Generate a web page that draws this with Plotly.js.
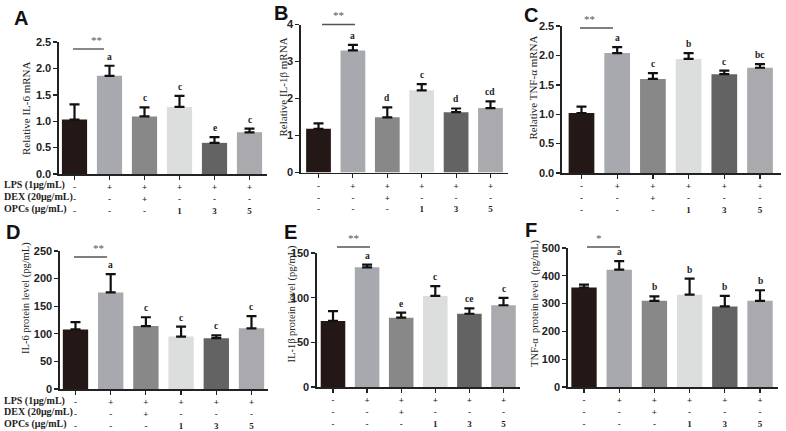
<!DOCTYPE html>
<html><head><meta charset="utf-8">
<script src="https://cdn.plot.ly/plotly-3.0.1.min.js"></script>
<style>html,body{margin:0;padding:0;background:#fff}#chart{width:786px;height:431px}</style>
</head><body><div id="chart"></div>
<script>
// ---- data ----
const groups = ['Control', 'LPS', 'LPS+DEX', 'LPS+OPCs 1', 'LPS+OPCs 3', 'LPS+OPCs 5'];
const lpsRow  = ['-', '+', '+', '+', '+', '+'];
const dexRow  = ['-', '-', '+', '-', '-', '-'];
const opcsRow = ['-', '-', '-', '1', '3', '5'];
const rowLabels = ['LPS (1μg/mL)', 'DEX (20μg/mL)', 'OPCs (μg/mL)'];

const il6mRNA      = [1.03, 1.86, 1.09, 1.27, 0.59, 0.79];
const il6mRNASD    = [0.29, 0.19, 0.17, 0.21, 0.11, 0.07];
const il1bmRNA     = [1.18, 3.30, 1.49, 2.22, 1.63, 1.74];
const il1bmRNASD   = [0.15, 0.15, 0.27, 0.17, 0.10, 0.18];
const tnfmRNA      = [1.02, 2.04, 1.60, 1.94, 1.68, 1.79];
const tnfmRNASD    = [0.11, 0.10, 0.10, 0.10, 0.06, 0.06];
const il6Protein   = [108, 175, 114, 95, 92, 110];
const il6ProteinSD = [13, 33, 16, 18, 5, 22];
const il1bProtein  = [74, 134, 77.6, 102, 82, 91.5];
const il1bProteinSD= [11, 3, 5.7, 11, 6, 8.3];
const tnfProtein   = [358, 422, 310, 332, 290, 310];
const tnfProteinSD = [10, 31, 16, 58, 38, 38];

const lettersA = ['', 'a', 'c', 'c', 'e', 'c'];
const lettersB = ['', 'a', 'd', 'c', 'd', 'cd'];
const lettersC = ['', 'a', 'c', 'b', 'c', 'bc'];
const lettersD = ['', 'a', 'c', 'c', 'c', 'c'];
const lettersE = ['', 'a', 'e', 'c', 'ce', 'c'];
const lettersF = ['', 'a', 'b', 'b', 'b', 'b'];

const barColors = ['#231815', '#a8a9ae', '#878887', '#dcdddd', '#636363', '#a9a9ae'];

// ---- panel geometry (pixels in a 786x431 canvas) ----
const W = 786, H = 431;
const panels = [
  {id:'A', vals:il6mRNA, sd:il6mRNASD, letters:lettersA, title:'Relative IL-6 mRNA', ts:11, tpos:[26,108], yr:[0,2.5], dt:0.5, fmt:'.1f',
   px:[59,267], py:[42,174], xr:[-0.443,5.5], lab:[12,5], sig:'**', sigX:[73,104], sigY:49, rows:true},
  {id:'B', vals:il1bmRNA, sd:il1bmRNASD, letters:lettersB, title:'Relative IL-1β mRNA', ts:11, tpos:[282.5,87], yr:[0,4], dt:1, fmt:'d',
   px:[301,508], py:[24.5,172.5], xr:[-0.509,5.509], lab:[272,0], sig:'**', sigX:[322,355], sigY:24.5, rows:false},
  {id:'C', vals:tnfmRNA, sd:tnfmRNASD, letters:lettersC, title:'Relative TNF-α mRNA', ts:11, tpos:[532.5,88], yr:[0,2.5], dt:0.5, fmt:'.1f',
   px:[562,781], py:[26,173], xr:[-0.546,5.588], lab:[522,2], sig:'**', sigX:[580,613], sigY:28, rows:false},
  {id:'D', vals:il6Protein, sd:il6ProteinSD, letters:lettersD, title:'IL-6 protein level (pg/mL)', ts:10.5, tpos:[26,298], yr:[0,250], dt:50, fmt:'d',
   px:[60,268], py:[251,389], xr:[-0.44,5.469], lab:[4,219], sig:'**', sigX:[74,107], sigY:257, rows:true},
  {id:'E', vals:il1bProtein, sd:il1bProteinSD, letters:lettersE, title:'IL-1β protein level (pg/mL)', ts:10.5, tpos:[291.5,304], yr:[0,150], dt:50, fmt:'d',
   px:[317,520], py:[253,387], xr:[-0.469,5.484], lab:[282,219], sig:'**', sigX:[337,370], sigY:247, rows:false},
  {id:'F', vals:tnfProtein, sd:tnfProteinSD, letters:lettersF, title:'TNF-α  protein level  (pg/mL)', ts:10.5, tpos:[535,303], yr:[0,500], dt:100, fmt:'d',
   px:[568,778], py:[248,387], xr:[-0.455,5.511], lab:[523,217], sig:'*', sigX:[587,620], sigY:247, rows:false}
];

const SERIF = 'Liberation Serif, Times New Roman, serif';
const SANS = 'Liberation Sans, Arial, sans-serif';
const tickText = groups.map((g, i) => lpsRow[i] + '<br>' + dexRow[i] + '<br>' + opcsRow[i]);
const xIdx = groups.map((g, i) => i);

const data = [];
const layout = {
  width: W, height: H, margin: {l:0, r:0, t:0, b:0},
  paper_bgcolor: '#fff', plot_bgcolor: '#fff', showlegend: false,
  annotations: [], shapes: []
};

panels.forEach((p, k) => {
  const n = k === 0 ? '' : String(k + 1);
  const xa = 'x' + n, ya = 'y' + n;
  data.push({
    type: 'bar', x: xIdx, y: p.vals, xaxis: xa, yaxis: ya,
    width: 0.72,
    marker: {color: barColors, line: {width: 0}},
    error_y: {type: 'data', array: p.sd, arrayminus: p.sd.map(() => 0), symmetric: false,
              color: '#111', thickness: 2.2, width: 5},
    hoverinfo: 'skip'
  });
  layout['xaxis' + n] = {
    domain: [p.px[0] / W, p.px[1] / W], range: p.xr, anchor: ya,
    tickmode: 'array', tickvals: xIdx, ticktext: tickText,
    ticks: 'outside', ticklen: 4, tickwidth: 1.2, tickcolor: '#222',
    showline: true, linecolor: '#222', linewidth: 1.6,
    showgrid: false, zeroline: false, fixedrange: true,
    tickfont: {family: SERIF, size: 9, color: '#222', weight: 'bold'}
  };
  layout['yaxis' + n] = {
    domain: [1 - p.py[1] / H, 1 - p.py[0] / H], range: p.yr, anchor: xa,
    dtick: p.dt, tick0: 0, tickformat: p.fmt,
    ticks: 'outside', ticklen: 4, tickwidth: 1.4, tickcolor: '#222',
    showline: true, linecolor: '#222', linewidth: 1.6,
    showgrid: false, zeroline: false, fixedrange: true,
    tickfont: {family: SANS, size: 11, color: '#222', weight: 'bold'}
  };
  // y-axis title
  layout.annotations.push({
    xref: 'paper', yref: 'paper', x: p.tpos[0] / W, y: 1 - p.tpos[1] / H,
    xanchor: 'center', yanchor: 'middle', textangle: -90, showarrow: false,
    text: p.title, font: {family: SERIF, size: p.ts, color: '#222'}
  });
  // panel letter
  layout.annotations.push({
    xref: 'paper', yref: 'paper', x: p.lab[0] / W, y: 1 - p.lab[1] / H,
    xanchor: 'left', yanchor: 'top', showarrow: false, text: '<b>' + p.id + '</b>',
    font: {family: SANS, size: 20, color: '#111'}
  });
  // group letters above error bars
  p.letters.forEach((t, i) => {
    if (!t) return;
    layout.annotations.push({
      xref: xa, yref: ya, x: i, y: p.vals[i] + p.sd[i], yanchor: 'bottom', yshift: 2,
      showarrow: false, text: '<b>' + t + '</b>',
      font: {family: SERIF, size: 9.5, color: '#222'}
    });
  });
  // significance bar
  layout.shapes.push({
    type: 'line', xref: 'paper', yref: 'paper',
    x0: p.sigX[0] / W, x1: p.sigX[1] / W, y0: 1 - p.sigY / H, y1: 1 - p.sigY / H,
    line: {color: '#555', width: 1.4}
  });
  layout.annotations.push({
    xref: 'paper', yref: 'paper', x: (p.sigX[0] + p.sigX[1]) / 2 / W, y: 1 - p.sigY / H,
    yanchor: 'bottom', yshift: 1, showarrow: false, text: p.sig,
    font: {family: SERIF, size: 11, color: '#555'}
  });
  // row labels
  if (p.rows) {
    rowLabels.forEach((t, r) => {
      layout.annotations.push({
        xref: 'paper', yref: 'paper', x: 2 / W, y: 1 - (p.py[1] + 11.5 + r * 11.5) / H,
        xanchor: 'left', yanchor: 'middle', showarrow: false, text: '<b>' + t + '</b>',
        font: {family: SERIF, size: 10, color: '#222'}
      });
    });
  }
});

Plotly.newPlot('chart', data, layout, {staticPlot: true, displayModeBar: false});
</script></body></html>
